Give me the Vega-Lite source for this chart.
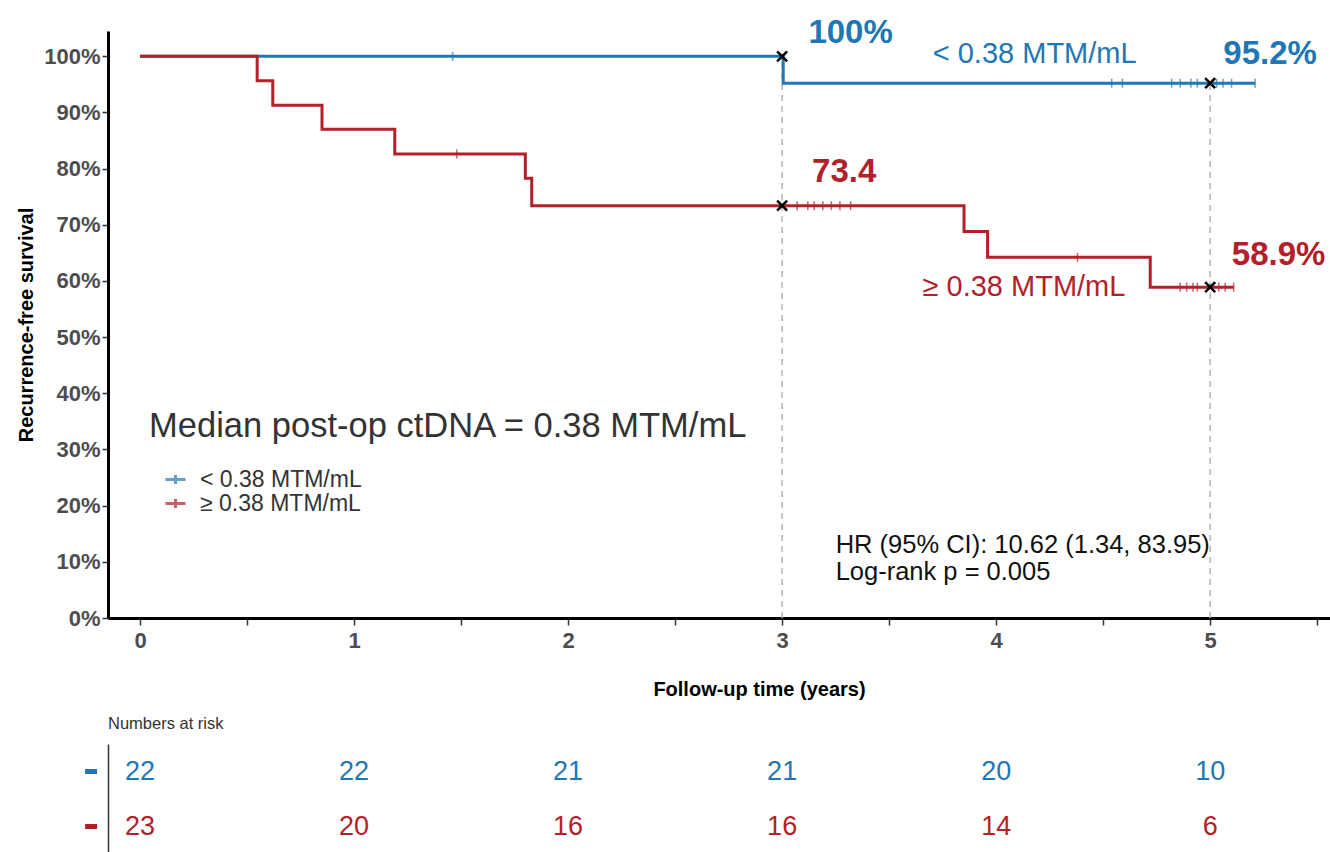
{
  "$schema": "https://vega.github.io/schema/vega-lite/v6.json",
  "padding": {"left": 16, "top": 17, "right": 0, "bottom": 0},
  "background": "white",
  "config": {"font": "Liberation Sans", "view": {"stroke": null}, "concat": {"spacing": 16}},
  "datasets": {
    "curves": [
      {"g": "< 0.38 MTM/mL", "t": 0, "s": 100},
      {"g": "< 0.38 MTM/mL", "t": 3.005, "s": 95.2},
      {"g": "< 0.38 MTM/mL", "t": 5.21, "s": 95.2},
      {"g": "≥ 0.38 MTM/mL", "t": 0, "s": 100},
      {"g": "≥ 0.38 MTM/mL", "t": 0.547, "s": 95.65},
      {"g": "≥ 0.38 MTM/mL", "t": 0.62, "s": 91.3},
      {"g": "≥ 0.38 MTM/mL", "t": 0.85, "s": 87.0},
      {"g": "≥ 0.38 MTM/mL", "t": 1.19, "s": 82.6},
      {"g": "≥ 0.38 MTM/mL", "t": 1.80, "s": 78.3},
      {"g": "≥ 0.38 MTM/mL", "t": 1.83, "s": 73.4},
      {"g": "≥ 0.38 MTM/mL", "t": 3.85, "s": 68.8},
      {"g": "≥ 0.38 MTM/mL", "t": 3.96, "s": 64.2},
      {"g": "≥ 0.38 MTM/mL", "t": 4.72, "s": 58.9},
      {"g": "≥ 0.38 MTM/mL", "t": 5.11, "s": 58.9}
    ],
    "censor": [
      {"g": "< 0.38 MTM/mL", "t": 1.46, "s": 100},
      {"g": "< 0.38 MTM/mL", "t": 4.54, "s": 95.2},
      {"g": "< 0.38 MTM/mL", "t": 4.59, "s": 95.2},
      {"g": "< 0.38 MTM/mL", "t": 4.82, "s": 95.2},
      {"g": "< 0.38 MTM/mL", "t": 4.86, "s": 95.2},
      {"g": "< 0.38 MTM/mL", "t": 4.91, "s": 95.2},
      {"g": "< 0.38 MTM/mL", "t": 4.94, "s": 95.2},
      {"g": "< 0.38 MTM/mL", "t": 5.03, "s": 95.2},
      {"g": "< 0.38 MTM/mL", "t": 5.06, "s": 95.2},
      {"g": "< 0.38 MTM/mL", "t": 5.10, "s": 95.2},
      {"g": "< 0.38 MTM/mL", "t": 5.21, "s": 95.2},
      {"g": "≥ 0.38 MTM/mL", "t": 1.48, "s": 82.6},
      {"g": "≥ 0.38 MTM/mL", "t": 3.07, "s": 73.4},
      {"g": "≥ 0.38 MTM/mL", "t": 3.12, "s": 73.4},
      {"g": "≥ 0.38 MTM/mL", "t": 3.15, "s": 73.4},
      {"g": "≥ 0.38 MTM/mL", "t": 3.19, "s": 73.4},
      {"g": "≥ 0.38 MTM/mL", "t": 3.23, "s": 73.4},
      {"g": "≥ 0.38 MTM/mL", "t": 3.27, "s": 73.4},
      {"g": "≥ 0.38 MTM/mL", "t": 3.32, "s": 73.4},
      {"g": "≥ 0.38 MTM/mL", "t": 4.38, "s": 64.2},
      {"g": "≥ 0.38 MTM/mL", "t": 4.86, "s": 58.9},
      {"g": "≥ 0.38 MTM/mL", "t": 4.89, "s": 58.9},
      {"g": "≥ 0.38 MTM/mL", "t": 4.92, "s": 58.9},
      {"g": "≥ 0.38 MTM/mL", "t": 4.94, "s": 58.9},
      {"g": "≥ 0.38 MTM/mL", "t": 5.04, "s": 58.9},
      {"g": "≥ 0.38 MTM/mL", "t": 5.07, "s": 58.9},
      {"g": "≥ 0.38 MTM/mL", "t": 5.11, "s": 58.9}
    ],
    "xmarks": [
      {"t": 3, "s": 100}, {"t": 3, "s": 73.4}, {"t": 5, "s": 95.2}, {"t": 5, "s": 58.9}
    ],
    "refs": [
      {"t": 3, "s": 100}, {"t": 5, "s": 95.2}
    ],
    "pctlabels": [
      {"g": "< 0.38 MTM/mL", "t": 3.32, "s": 104.1, "label": "100%"},
      {"g": "< 0.38 MTM/mL", "t": 5.28, "s": 100.4, "label": "95.2%"},
      {"g": "≥ 0.38 MTM/mL", "t": 3.29, "s": 79.4, "label": "73.4"},
      {"g": "≥ 0.38 MTM/mL", "t": 5.32, "s": 64.6, "label": "58.9%"}
    ],
    "grouplabels": [
      {"g": "< 0.38 MTM/mL", "t": 4.18, "s": 100.4, "label": "< 0.38 MTM/mL"},
      {"g": "≥ 0.38 MTM/mL", "t": 4.13, "s": 58.9, "label": "≥ 0.38 MTM/mL"}
    ],
    "headline": [
      {"t": 0.042, "s": 34.0, "label": "Median post-op ctDNA = 0.38 MTM/mL"}
    ],
    "stats": [
      {"t": 3.25, "s": 13.0, "label": "HR (95% CI): 10.62 (1.34, 83.95)"},
      {"t": 3.25, "s": 8.2, "label": "Log-rank p = 0.005"}
    ],
    "risk": [
      {"g": "< 0.38 MTM/mL", "t": 0, "n": 22},
      {"g": "< 0.38 MTM/mL", "t": 1, "n": 22},
      {"g": "< 0.38 MTM/mL", "t": 2, "n": 21},
      {"g": "< 0.38 MTM/mL", "t": 3, "n": 21},
      {"g": "< 0.38 MTM/mL", "t": 4, "n": 20},
      {"g": "< 0.38 MTM/mL", "t": 5, "n": 10},
      {"g": "≥ 0.38 MTM/mL", "t": 0, "n": 23},
      {"g": "≥ 0.38 MTM/mL", "t": 1, "n": 20},
      {"g": "≥ 0.38 MTM/mL", "t": 2, "n": 16},
      {"g": "≥ 0.38 MTM/mL", "t": 3, "n": 16},
      {"g": "≥ 0.38 MTM/mL", "t": 4, "n": 14},
      {"g": "≥ 0.38 MTM/mL", "t": 5, "n": 6}
    ]
  },
  "resolve": {"scale": {"x": "independent", "y": "independent", "color": "shared"}, "legend": {"color": "shared"}},
  "vconcat": [
    {
      "width": 1222,
      "height": 587,
      "encoding": {
        "x": {
          "field": "t", "type": "quantitative",
          "scale": {"domain": [-0.15, 5.56], "nice": false, "zero": false},
          "axis": {
            "title": "Follow-up time (years)",
            "values": [0, 0.5, 1, 1.5, 2, 2.5, 3, 3.5, 4, 4.5, 5, 5.5],
            "labelExpr": "datum.value % 1 === 0 ? format(datum.value, 'd') : ''",
            "labelFlush": false,
            "grid": false,
            "domainColor": "black", "domainWidth": 3,
            "tickColor": "#333", "tickWidth": 1.5, "tickSize": 7,
            "labelFontSize": 22, "labelFontWeight": "bold", "labelColor": "#4d4d4d", "labelPadding": 5,
            "titleFontSize": 20, "titleFontWeight": "bold", "titleColor": "black", "titlePadding": 28,
            "titleX": 651
          }
        },
        "y": {
          "field": "s", "type": "quantitative",
          "scale": {"domain": [0, 104.5], "nice": false, "zero": false},
          "axis": {
            "title": "Recurrence-free survival",
            "values": [0, 10, 20, 30, 40, 50, 60, 70, 80, 90, 100],
            "labelExpr": "datum.value + '%'",
            "grid": false,
            "domainColor": "black", "domainWidth": 3,
            "tickColor": "#333", "tickWidth": 1.5, "tickSize": 6,
            "labelFontSize": 22, "labelFontWeight": "bold", "labelColor": "#4d4d4d", "labelPadding": 2,
            "titleFontSize": 20, "titleFontWeight": "bold", "titleColor": "black", "titlePadding": 7
          }
        }
      },
      "layer": [
        {
          "data": {"name": "refs"},
          "mark": {"type": "rule", "color": "#b3b3b3", "strokeDash": [6, 5], "strokeWidth": 1.5},
          "encoding": {"y": {"datum": 0, "type": "quantitative"}, "y2": {"field": "s"}}
        },
        {
          "data": {"name": "curves"},
          "mark": {"type": "line", "interpolate": "step-after", "strokeWidth": 3},
          "encoding": {
            "color": {
              "field": "g", "type": "nominal",
              "scale": {"domain": ["< 0.38 MTM/mL", "≥ 0.38 MTM/mL"], "range": ["#2077b4", "#b2212a"]},
              "legend": {
                "orient": "none", "legendX": 56, "legendY": 437, "title": null,
                "labelFontSize": 23, "labelColor": "#333", "labelOffset": 13, "labelLimit": 400,
                "symbolType": "M-1,0L1,0M0,-0.45L0,0.45", "symbolSize": 400, "symbolStrokeWidth": 3,
                "symbolFillColor": "transparent", "symbolOpacity": 1, "rowPadding": -3, "padding": 0
              }
            }
          }
        },
        {
          "data": {"name": "censor"},
          "mark": {"type": "tick", "orient": "vertical", "size": 9, "thickness": 1.5},
          "encoding": {"color": {"field": "g", "type": "nominal"}}
        },
        {
          "data": {"name": "xmarks"},
          "mark": {"type": "point", "shape": "M-1,-1L1,1M1,-1L-1,1", "filled": false, "color": "black", "strokeWidth": 2.5, "size": 100, "opacity": 1}
        },
        {
          "data": {"name": "pctlabels"},
          "mark": {"type": "text", "fontSize": 33, "fontWeight": "bold", "align": "center", "baseline": "middle"},
          "encoding": {"text": {"field": "label"}, "color": {"field": "g", "type": "nominal"}}
        },
        {
          "data": {"name": "grouplabels"},
          "mark": {"type": "text", "fontSize": 29, "align": "center", "baseline": "middle"},
          "encoding": {"text": {"field": "label"}, "color": {"field": "g", "type": "nominal"}}
        },
        {
          "data": {"name": "headline"},
          "mark": {"type": "text", "fontSize": 34.5, "align": "left", "baseline": "middle", "color": "#333"},
          "encoding": {"text": {"field": "label"}}
        },
        {
          "data": {"name": "stats"},
          "mark": {"type": "text", "fontSize": 25.5, "align": "left", "baseline": "middle", "color": "#111"},
          "encoding": {"text": {"field": "label"}}
        }
      ]
    },
    {
      "width": 1222,
      "height": 110,
      "title": {"text": "Numbers at risk", "anchor": "start", "fontSize": 16.5, "fontWeight": "normal", "color": "#333", "offset": 12, "frame": "group"},
      "data": {"name": "risk"},
      "encoding": {
        "x": {"field": "t", "type": "quantitative", "scale": {"domain": [-0.15, 5.56], "nice": false, "zero": false}, "axis": null},
        "y": {
          "field": "g", "type": "nominal",
          "scale": {"type": "point", "padding": 0.5, "domain": ["< 0.38 MTM/mL", "≥ 0.38 MTM/mL"]},
          "axis": {"domain": true, "domainColor": "#333", "domainWidth": 1.5, "ticks": false, "labels": false, "title": null, "grid": false}
        }
      },
      "layer": [
        {
          "mark": {"type": "text", "fontSize": 27, "align": "center", "baseline": "middle"},
          "encoding": {"text": {"field": "n", "type": "quantitative"}, "color": {"field": "g", "type": "nominal"}}
        },
        {
          "transform": [{"filter": "datum.t === 0"}],
          "mark": {"type": "rule", "strokeWidth": 5},
          "encoding": {"x": {"datum": -0.257}, "x2": {"datum": -0.201}, "color": {"field": "g", "type": "nominal"}}
        }
      ]
    }
  ]
}
